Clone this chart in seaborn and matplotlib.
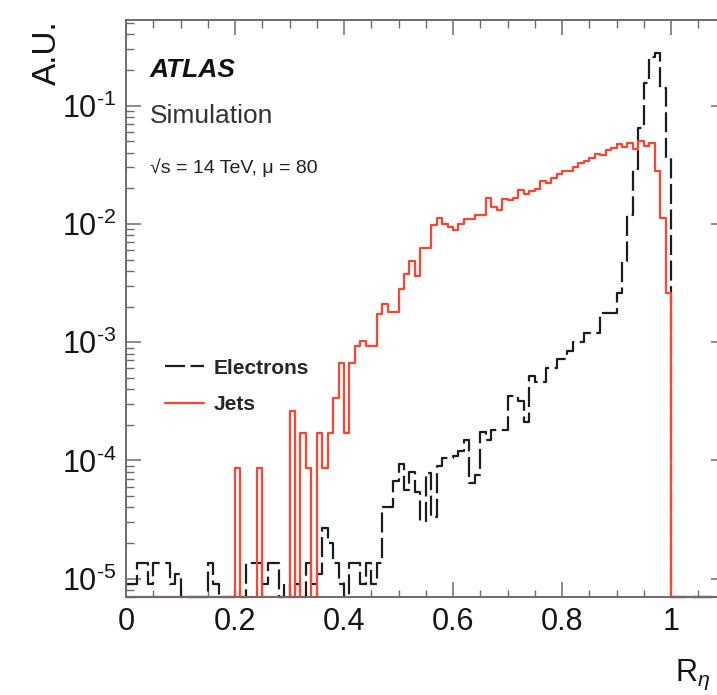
import numpy as np
import pandas as pd
import matplotlib
matplotlib.use("Agg")
import matplotlib.pyplot as plt
import seaborn as sns
from matplotlib.ticker import (MultipleLocator, LogLocator, FuncFormatter,
                               NullFormatter)

# R_eta histograms, 0.01-wide bins from 0 to 1.1 (normalised, arbitrary units)
bin_edges = np.round(np.linspace(0.0, 1.1, 111), 2).tolist()

electrons = [
    9e-6, 9e-6, 1.35e-5, 1.35e-5, 9e-6, 1.35e-5, 1.35e-5, 1.35e-5, 9e-6, 1.1e-5,
    0, 0, 0, 0, 0, 1.35e-5, 9e-6, 0, 0, 0,
    8e-6, 0, 1.35e-5, 1.35e-5, 1.35e-5, 9e-6, 1.35e-5, 1.35e-5, 0, 9e-6,
    0, 9e-6, 0, 1.35e-5, 9e-6, 1.1e-5, 2.7e-5, 2.0e-5, 1.35e-5, 9e-6,
    0, 1.35e-5, 1.35e-5, 9e-6, 1.35e-5, 9e-6, 1.35e-5, 4.0e-5, 4.0e-5, 6.7e-5,
    9.3e-5, 5.6e-5, 8.0e-5, 5.4e-5, 3.1e-5, 7.8e-5, 3.3e-5, 9.0e-5, 1.05e-4, 1.05e-4,
    1.1e-4, 1.2e-4, 1.5e-4, 6.5e-5, 7.5e-5, 1.75e-4, 1.5e-4, 1.8e-4, 1.8e-4, 1.8e-4,
    3.5e-4, 3.5e-4, 3.2e-4, 2.1e-4, 5.2e-4, 4.6e-4, 4.6e-4, 6.1e-4, 6.1e-4, 7.2e-4,
    7.2e-4, 8.5e-4, 1.0e-3, 1.0e-3, 1.2e-3, 1.2e-3, 1.2e-3, 1.75e-3, 1.75e-3, 1.75e-3,
    2.6e-3, 4.9e-3, 1.2e-2, 2.9e-2, 6.5e-2, 0.155, 0.26, 0.28, 0.14, 3.6e-2,
    0, 0, 0, 0, 0, 0, 0, 0, 0, 0,
]

jets = [
    0, 0, 0, 0, 0, 0, 0, 0, 0, 0,
    0, 0, 0, 0, 0, 0, 0, 0, 0, 0,
    8.6e-5, 0, 0, 0, 8.6e-5, 0, 0, 0, 0, 0,
    2.6e-4, 0, 1.7e-4, 8.6e-5, 0, 1.7e-4, 8.6e-5, 1.7e-4, 3.4e-4, 6.7e-4,
    1.7e-4, 6.7e-4, 9.3e-4, 1.02e-3, 9.3e-4, 9.3e-4, 1.74e-3, 2.1e-3, 1.8e-3, 1.8e-3,
    2.8e-3, 3.8e-3, 4.9e-3, 3.6e-3, 6.2e-3, 6.2e-3, 9.7e-3, 1.13e-2, 1.0e-2, 9.5e-3,
    8.8e-3, 1.0e-2, 1.1e-2, 1.1e-2, 1.18e-2, 1.18e-2, 1.67e-2, 1.38e-2, 1.3e-2, 1.64e-2,
    1.6e-2, 1.67e-2, 1.94e-2, 1.8e-2, 1.9e-2, 1.98e-2, 2.3e-2, 2.2e-2, 2.46e-2, 2.66e-2,
    2.8e-2, 2.8e-2, 3.0e-2, 3.3e-2, 3.4e-2, 3.6e-2, 3.9e-2, 3.8e-2, 4.25e-2, 4.4e-2,
    4.7e-2, 4.5e-2, 4.8e-2, 4.3e-2, 5.0e-2, 4.6e-2, 4.8e-2, 2.8e-2, 1.13e-2, 2.6e-3,
    0, 0, 0, 0, 0, 0, 0, 0, 0, 0,
]

y_lo, y_hi = 7e-6, 0.53

sns.set_theme(style="ticks")
plt.rcParams["font.family"] = ["Liberation Sans", "DejaVu Sans"]
plt.rcParams["mathtext.fontset"] = "custom"
plt.rcParams["mathtext.rm"] = "Liberation Sans"
plt.rcParams["mathtext.it"] = "Liberation Sans:italic"
plt.rcParams["mathtext.bf"] = "Liberation Sans:bold"
plt.rcParams["axes.unicode_minus"] = False

fig = plt.figure(figsize=(7.17, 6.95), dpi=100)
ax = fig.add_axes([126 / 717, 1 - 597 / 695, 599.5 / 717, 577 / 695])

edges_arr = np.asarray(bin_edges)
centers = 0.5 * (edges_arr[:-1] + edges_arr[1:])
# empty bins sit on the lower frame, as in a log-scale step histogram
df = pd.DataFrame({
    "r": centers,
    "Electrons": np.maximum(np.asarray(electrons, float), y_lo),
    "Jets": np.maximum(np.asarray(jets, float), y_lo),
})

sns.histplot(data=df, x="r", weights="Electrons", bins=bin_edges,
             element="step", fill=False, color="#1c1c1c", linewidth=1.6,
             dashes=(9, 2.5), label="Electrons", ax=ax, clip_on=False)
sns.histplot(data=df, x="r", weights="Jets", bins=bin_edges,
             element="step", fill=False, color="#ff4433", linewidth=1.6,
             label="Jets", ax=ax, clip_on=False)

ax.set_yscale("log")
ax.set_xlim(0, 1.1)
ax.set_ylim(y_lo, y_hi)


def decade_label(v, pos):
    n = int(round(np.log10(v)))
    return r"$10^{\text{%d}}$" % n


ax.xaxis.set_major_locator(MultipleLocator(0.2))
ax.xaxis.set_minor_locator(MultipleLocator(0.05))
ax.xaxis.set_major_formatter(FuncFormatter(lambda v, p: f"{v:g}"))
ax.yaxis.set_major_locator(LogLocator(base=10))
ax.yaxis.set_minor_locator(LogLocator(base=10, subs=np.arange(2, 10)))
ax.yaxis.set_major_formatter(FuncFormatter(decade_label))
ax.yaxis.set_minor_formatter(NullFormatter())

frame_col = "#6c6c6c"
ax.tick_params(which="both", direction="in", top=True, right=True,
               color=frame_col, labelcolor="#151515")
ax.tick_params(which="major", length=10.8, width=1.1, labelsize=22)
ax.tick_params(axis="x", which="major", pad=7)
ax.tick_params(axis="y", which="major", pad=7)
ax.tick_params(which="minor", length=5.4, width=1.0)
for sp in ax.spines.values():
    sp.set_color(frame_col)
    sp.set_linewidth(1.4)

ax.set_ylabel("A.U.", loc="top", fontsize=24, color="#151515")
ax.yaxis.set_label_coords(-0.105, 1.0)
ax.set_xlabel(r"R$_{\eta}$", loc="right", fontsize=22, color="#151515")
ax.xaxis.set_label_coords(0.975, -0.106)

ax.text(0.040, 0.901, "ATLAS", transform=ax.transAxes, fontsize=19,
        fontweight="bold", fontstyle="italic", va="baseline", color="#111111")
ax.text(0.040, 0.8215, "Simulation", transform=ax.transAxes, fontsize=19,
        va="baseline", color="#333333")
ax.text(0.040, 0.735, "\u221as = 14 TeV, \u03bc = 80", transform=ax.transAxes,
        fontsize=14, va="baseline", color="#222222")

ax.legend(loc="upper left", bbox_to_anchor=(0.065, 0.413), frameon=False,
          prop={"size": 15, "weight": "bold"}, handlelength=1.85,
          handletextpad=0.5, labelspacing=0.85, borderpad=0, borderaxespad=0)

fig.savefig("out.png", dpi=100)
